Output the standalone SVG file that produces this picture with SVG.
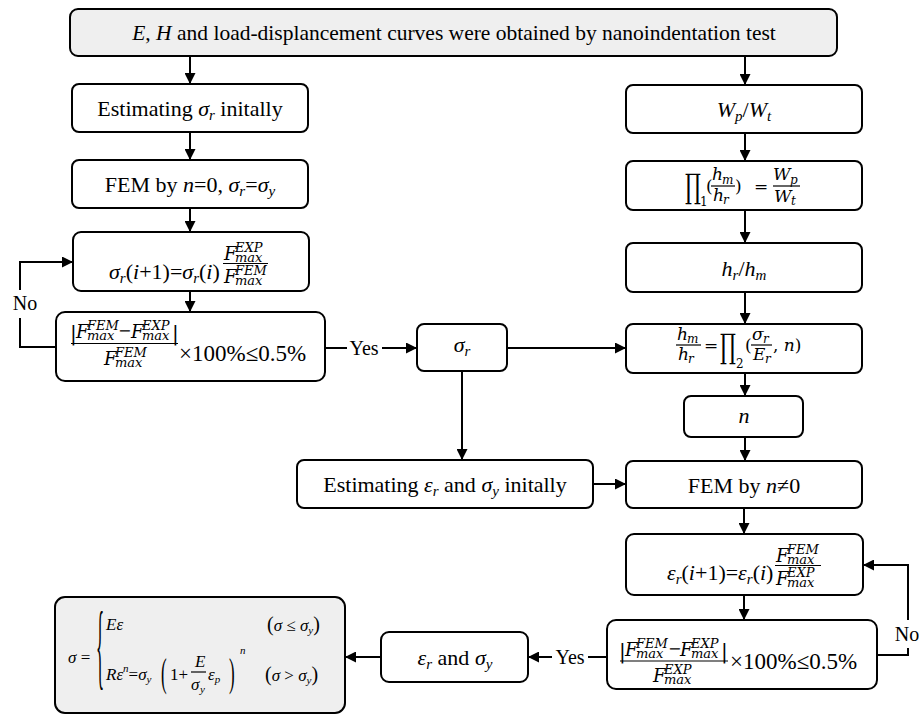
<svg xmlns="http://www.w3.org/2000/svg" width="919" height="716" viewBox="0 0 919 716">
  <defs>
    <marker id="ah" viewBox="0 0 10 10" refX="10" refY="5" markerWidth="11" markerHeight="11" markerUnits="userSpaceOnUse" orient="auto">
      <path d="M0,0 L10,5 L0,10 z" fill="#000"/>
    </marker>
    <style>
      .box { fill: #fff; stroke: #000; stroke-width: 2; }
      .gray { fill: #efefef; stroke: #000; stroke-width: 2; }
      .t { font-family: "Liberation Serif", "DejaVu Serif", serif; font-size: 22px; fill: #000; }
      .i { font-style: italic; }
      .u { font-style: normal; }
      .m { font-family: "DejaVu Serif", serif; font-style: italic; fill: #000; }
      .mr { font-family: "DejaVu Serif", serif; fill: #000; }
      .F { font-size: 18px; }
      .s { font-size: 13px; }
      .h { font-size: 17px; }
      .hs { font-size: 12px; }
      .lab { font-family: "Liberation Serif", "DejaVu Serif", serif; font-size: 20px; fill: #000; }
      .eq { font-family: "Liberation Serif", "DejaVu Serif", serif; font-size: 17px; fill: #000; }
      .conn line, .conn polyline { stroke: #000; stroke-width: 2; fill: none; }
      .bar { stroke: #000; stroke-width: 1.2; }
    </style>
  </defs>

  <!-- connectors -->
  <g id="connectors" class="conn">
    <line x1="190" y1="56" x2="190" y2="84" marker-end="url(#ah)"/>
    <line x1="745" y1="56" x2="745" y2="85" marker-end="url(#ah)"/>
    <line x1="190" y1="132" x2="190" y2="160" marker-end="url(#ah)"/>
    <line x1="190" y1="208" x2="190" y2="232" marker-end="url(#ah)"/>
    <line x1="190" y1="291" x2="190" y2="312" marker-end="url(#ah)"/>
    <!-- left retry loop -->
    <polyline points="56,347 20,347 20,318"/>
    <polyline points="20,290 20,262 73,262" marker-end="url(#ah)"/>
    <!-- left Yes -->
    <line x1="325" y1="348" x2="347" y2="348"/>
    <line x1="382" y1="348" x2="417" y2="348" marker-end="url(#ah)"/>
    <line x1="507" y1="348" x2="626" y2="348" marker-end="url(#ah)"/>
    <line x1="462" y1="371" x2="462" y2="460" marker-end="url(#ah)"/>
    <line x1="593" y1="484" x2="626" y2="484" marker-end="url(#ah)"/>
    <!-- right column -->
    <line x1="745" y1="133" x2="745" y2="161" marker-end="url(#ah)"/>
    <line x1="745" y1="210" x2="745" y2="243" marker-end="url(#ah)"/>
    <line x1="745" y1="292" x2="745" y2="324" marker-end="url(#ah)"/>
    <line x1="745" y1="373" x2="745" y2="396" marker-end="url(#ah)"/>
    <line x1="745" y1="437" x2="745" y2="461" marker-end="url(#ah)"/>
    <line x1="744" y1="508" x2="744" y2="534" marker-end="url(#ah)"/>
    <line x1="744" y1="595" x2="744" y2="620" marker-end="url(#ah)"/>
    <!-- right retry loop -->
    <polyline points="877,655 908,655 908,648"/>
    <polyline points="908,620 908,565 863,565" marker-end="url(#ah)"/>
    <!-- bottom Yes -->
    <line x1="607" y1="657" x2="588" y2="657"/>
    <line x1="552" y1="657" x2="528" y2="657" marker-end="url(#ah)"/>
    <line x1="381" y1="657" x2="345" y2="657" marker-end="url(#ah)"/>
  </g>

  <!-- edge labels -->
  <g id="labels">
    <text class="lab" x="25" y="310" text-anchor="middle">No</text>
    <text class="lab" x="364" y="355" text-anchor="middle">Yes</text>
    <text class="lab" x="907" y="641" text-anchor="middle">No</text>
    <text class="lab" x="570" y="664" text-anchor="middle">Yes</text>
  </g>

  <!-- input data -->
  <g id="n-start">
    <rect class="gray" x="70" y="9" width="767" height="47" rx="8"/>
    <text class="t" x="454" y="40" text-anchor="middle" style="font-size:21.5px"><tspan class="i">E</tspan>, <tspan class="i">H</tspan> and load-displancement curves were obtained by nanoindentation test</text>
  </g>

  <!-- left branch: representative stress -->
  <g id="n-est-sigma">
    <rect class="box" x="72" y="84" width="236" height="48" rx="7"/>
    <text class="t" x="190" y="116" text-anchor="middle">Estimating <tspan class="i">σ</tspan><tspan class="i" font-size="15" dy="4">r</tspan><tspan dy="-4"> initally</tspan></text>
  </g>

  <g id="n-fem0">
    <rect class="box" x="72" y="160" width="236" height="48" rx="7"/>
    <text class="t" x="190" y="192" text-anchor="middle">FEM by <tspan class="i">n</tspan>=0, <tspan class="i">σ</tspan><tspan class="i" font-size="15" dy="4">r</tspan><tspan dy="-4">=</tspan><tspan class="i">σ</tspan><tspan class="i" font-size="15" dy="4">y</tspan></text>
  </g>

  <g id="n-update-sigma">
    <rect class="box" x="73" y="232" width="236" height="59" rx="8"/>
    <text class="t" x="109" y="279"><tspan class="i">σ</tspan><tspan class="i" font-size="15" dy="4">r</tspan><tspan dy="-4">(</tspan><tspan class="i">i</tspan>+1)=<tspan class="i">σ</tspan><tspan class="i" font-size="15" dy="4">r</tspan><tspan dy="-4">(</tspan><tspan class="i">i</tspan>)</text>
    <text class="m"><tspan class="F" x="224" y="260">F</tspan><tspan class="s" x="235" y="252">EXP</tspan><tspan class="s" x="235" y="262">max</tspan><tspan class="F" x="224" y="283">F</tspan><tspan class="s" x="235" y="275">FEM</tspan><tspan class="s" x="235" y="285">max</tspan></text>
    <line class="bar" x1="223" y1="263.5" x2="268" y2="263.5"/>
  </g>

  <g id="n-check-sigma">
    <rect class="box" x="56" y="312" width="269" height="69" rx="9"/>
    <text class="m"><tspan class="u" x="70" y="340" font-size="20">|</tspan><tspan class="F" x="76" y="338">F</tspan><tspan class="s" x="87" y="330">FEM</tspan><tspan class="s" x="87" y="340">max</tspan><tspan class="u" x="118" y="336" font-size="16">−</tspan><tspan class="F" x="131" y="338">F</tspan><tspan class="s" x="142" y="330">EXP</tspan><tspan class="s" x="142" y="340">max</tspan><tspan class="u" x="172" y="340" font-size="20">|</tspan><tspan class="F" x="104" y="365">F</tspan><tspan class="s" x="115" y="357">FEM</tspan><tspan class="s" x="115" y="367">max</tspan></text>
    <line class="bar" x1="71" y1="343.5" x2="178" y2="343.5"/>
    <text class="t" x="179" y="361" style="font-size:23px">×100%≤0.5%</text>
  </g>

  <g id="n-sigma-r">
    <rect class="box" x="417" y="324" width="90" height="47" rx="7"/>
    <text class="t" x="462" y="352" text-anchor="middle"><tspan class="i">σ</tspan><tspan class="i" font-size="15" dy="4">r</tspan></text>
  </g>

  <g id="n-est-eps">
    <rect class="box" x="297" y="460" width="296" height="48" rx="7"/>
    <text class="t" x="445" y="492" text-anchor="middle">Estimating <tspan class="i">ε</tspan><tspan class="i" font-size="15" dy="4">r</tspan><tspan dy="-4"> and </tspan><tspan class="i">σ</tspan><tspan class="i" font-size="15" dy="4">y</tspan><tspan dy="-4"> initally</tspan></text>
  </g>

  <!-- right branch: hardening exponent -->
  <g id="n-work">
    <rect class="box" x="626" y="85" width="236" height="48" rx="7"/>
    <text class="t" x="744" y="117" text-anchor="middle"><tspan class="i">W</tspan><tspan class="i" font-size="15" dy="4">p</tspan><tspan dy="-4">/</tspan><tspan class="i">W</tspan><tspan class="i" font-size="15" dy="4">t</tspan></text>
  </g>

  <g id="n-pi1">
    <rect class="box" x="626" y="161" width="236" height="49" rx="7"/>
    <text class="mr" transform="translate(685,198) scale(1,1.7)" font-size="20">∏</text>
    <text class="m"><tspan class="u" x="700" y="206" font-size="12">1</tspan><tspan class="u" x="706" y="192" font-size="17">(</tspan><tspan class="h" x="712" y="180">h</tspan><tspan class="hs" x="722" y="184">m</tspan><tspan class="h" x="713" y="201">h</tspan><tspan class="hs" x="723" y="204">r</tspan><tspan class="u" x="735" y="192" font-size="17">)</tspan><tspan class="u" x="754" y="192" font-size="17">=</tspan><tspan class="h" x="773" y="180">W</tspan><tspan class="hs" x="790" y="184">p</tspan><tspan class="h" x="774" y="202">W</tspan><tspan class="hs" x="791" y="205">t</tspan></text>
    <line class="bar" x1="711" y1="186" x2="735" y2="186"/>
    <line class="bar" x1="773" y1="186" x2="800" y2="186"/>
  </g>

  <g id="n-ratio">
    <rect class="box" x="626" y="243" width="236" height="49" rx="7"/>
    <text class="t" x="744" y="276" text-anchor="middle"><tspan class="i">h</tspan><tspan class="i" font-size="15" dy="4">r</tspan><tspan dy="-4">/</tspan><tspan class="i">h</tspan><tspan class="i" font-size="15" dy="4">m</tspan></text>
  </g>

  <g id="n-pi2">
    <rect class="box" x="626" y="324" width="236" height="49" rx="7"/>
    <text class="m"><tspan class="h" x="677" y="340">h</tspan><tspan class="hs" x="687" y="343">m</tspan><tspan class="h" x="678" y="360">h</tspan><tspan class="hs" x="688" y="363">r</tspan><tspan class="u" x="704" y="351" font-size="17">=</tspan></text>
    <text class="mr" transform="translate(720,358) scale(1,1.7)" font-size="20">∏</text>
    <text class="m"><tspan class="u" x="736" y="368" font-size="12">2</tspan><tspan class="u" x="745" y="351" font-size="17">(</tspan><tspan class="h" x="752" y="340">σ</tspan><tspan class="hs" x="763" y="343">r</tspan><tspan class="h" x="753" y="360">E</tspan><tspan class="hs" x="765" y="363">r</tspan><tspan class="u" x="773" y="351" font-size="17">, </tspan><tspan font-size="17">n</tspan><tspan class="u" font-size="17">)</tspan></text>
    <line class="bar" x1="676" y1="345" x2="701" y2="345"/>
    <line class="bar" x1="751" y1="345" x2="772" y2="345"/>
  </g>

  <g id="n-n">
    <rect class="box" x="684" y="396" width="119" height="41" rx="7"/>
    <text class="t i" x="744" y="423" text-anchor="middle">n</text>
  </g>

  <g id="n-fem1">
    <rect class="box" x="626" y="461" width="236" height="47" rx="7"/>
    <text class="t" x="744" y="493" text-anchor="middle">FEM by <tspan class="i">n</tspan>≠0</text>
  </g>

  <g id="n-update-eps">
    <rect class="box" x="626" y="534" width="237" height="61" rx="8"/>
    <text class="t" x="667" y="580"><tspan class="i">ε</tspan><tspan class="i" font-size="15" dy="4">r</tspan><tspan dy="-4">(</tspan><tspan class="i">i</tspan>+1)=<tspan class="i">ε</tspan><tspan class="i" font-size="15" dy="4">r</tspan><tspan dy="-4">(</tspan><tspan class="i">i</tspan>)</text>
    <text class="m"><tspan class="F" x="776" y="562">F</tspan><tspan class="s" x="787" y="554">FEM</tspan><tspan class="s" x="787" y="564">max</tspan><tspan class="F" x="776" y="585">F</tspan><tspan class="s" x="787" y="577">EXP</tspan><tspan class="s" x="787" y="587">max</tspan></text>
    <line class="bar" x1="775" y1="565.5" x2="821" y2="565.5"/>
  </g>

  <g id="n-check-eps">
    <rect class="box" x="607" y="620" width="270" height="69" rx="9"/>
    <text class="m"><tspan class="u" x="619" y="658" font-size="20">|</tspan><tspan class="F" x="625" y="656">F</tspan><tspan class="s" x="636" y="648">FEM</tspan><tspan class="s" x="636" y="658">max</tspan><tspan class="u" x="668" y="654" font-size="16">−</tspan><tspan class="F" x="680" y="656">F</tspan><tspan class="s" x="691" y="648">EXP</tspan><tspan class="s" x="691" y="658">max</tspan><tspan class="u" x="721" y="658" font-size="20">|</tspan><tspan class="F" x="653" y="682">F</tspan><tspan class="s" x="664" y="674">EXP</tspan><tspan class="s" x="664" y="684">max</tspan></text>
    <line class="bar" x1="620" y1="661" x2="728" y2="661"/>
    <text class="t" x="730" y="669" style="font-size:23px">×100%≤0.5%</text>
  </g>

  <g id="n-result">
    <rect class="box" x="381" y="632" width="147" height="50" rx="8"/>
    <text class="t" x="455" y="665" text-anchor="middle"><tspan class="i">ε</tspan><tspan class="i" font-size="15" dy="4">r</tspan><tspan dy="-4"> and </tspan><tspan class="i">σ</tspan><tspan class="i" font-size="15" dy="4">y</tspan></text>
  </g>

  <!-- constitutive model -->
  <g id="n-model">
    <rect class="gray" x="55" y="597" width="290" height="116" rx="10"/>
    <text class="eq" x="68" y="663"><tspan class="i">σ</tspan> =</text>
    <text class="eq" transform="translate(96,652) scale(1,5.6)" y="4.5">{</text>
    <!-- elastic branch -->
    <text class="eq"><tspan class="i" x="106" y="630">Eε</tspan><tspan font-size="20" x="267" y="631">(</tspan><tspan class="i">σ</tspan> ≤ <tspan class="i">σ</tspan><tspan class="i" font-size="11" dy="3">y</tspan><tspan font-size="20" dy="-3">)</tspan></text>
    <!-- plastic branch -->
    <text class="eq" x="106" y="680"><tspan class="i">R</tspan><tspan class="i">ε</tspan><tspan class="i" font-size="11" dy="-8">n</tspan><tspan dy="8">=</tspan><tspan class="i">σ</tspan><tspan class="i" font-size="11" dy="3">y</tspan><tspan dy="-3" x="170">1+</tspan><tspan class="i" x="195" y="667">E</tspan><tspan class="i" x="191" y="690">σ</tspan><tspan class="i" font-size="11" x="200" y="693">y</tspan><tspan class="i" x="208" y="680">ε</tspan><tspan class="i" font-size="11" dy="3">p</tspan><tspan class="i" font-size="11" x="240" y="654">n</tspan><tspan font-size="20" x="265" y="681">(</tspan><tspan class="i">σ</tspan> &gt; <tspan class="i">σ</tspan><tspan class="i" font-size="11" dy="3">y</tspan><tspan font-size="20" dy="-3">)</tspan></text>
    <text class="eq" transform="translate(161,674) scale(1,2.4)" y="5">(</text>
    <text class="eq" transform="translate(229,674) scale(1,2.4)" y="5">)</text>
    <line class="bar" x1="191" y1="672" x2="206" y2="672" stroke-width="1"/>
  </g>
</svg>
